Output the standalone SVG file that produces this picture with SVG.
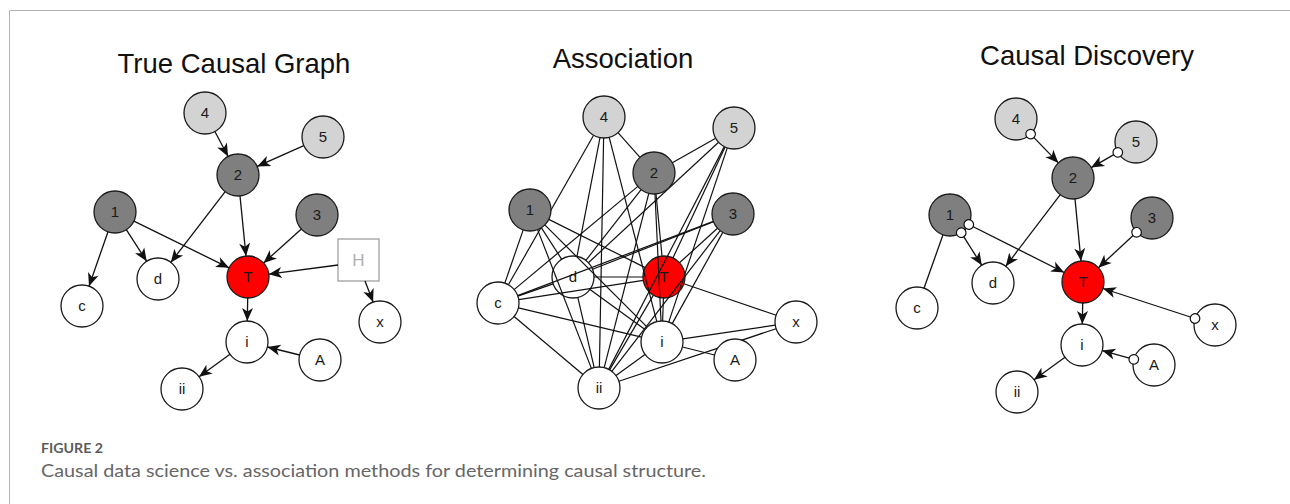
<svg xmlns="http://www.w3.org/2000/svg" width="1290" height="504" viewBox="0 0 1290 504">
<style>
.bg{fill:#fff}
.frame{fill:none;stroke:#b3b3b3;stroke-width:1}
.title{font-family:"Liberation Sans",Arial,sans-serif;font-size:27.5px;fill:#111;text-anchor:middle}
.node circle{stroke:#1a1a1a;stroke-width:1.3}
.lg{fill:#d3d3d3}
.dg{fill:#7f7f7f}
.rd{fill:#ff0000}
.wh{fill:#fff}
.node text{font-family:"Liberation Sans",Arial,sans-serif;font-size:15px;fill:#1a1a1a;text-anchor:middle}
.hbox{fill:#fff;stroke:#a0a0a0;stroke-width:1.3}
.node text.htext{font-size:17px;fill:#b0b0b0}
.e line{stroke:#111;stroke-width:1.3}
.a line{marker-end:url(#arr)}
.co line{marker-start:url(#circ)}
.ass line{stroke:#111;stroke-width:1.2}
.cap1{font-family:Lato,"Open Sans",sans-serif;font-size:13.5px;font-weight:bold;fill:#5a5a5a}
.cap2{font-family:Lato,"Open Sans",sans-serif;font-size:17px;fill:#666}
</style>
<defs>
<marker id="arr" markerUnits="userSpaceOnUse" markerWidth="15" markerHeight="12" refX="13" refY="5.5" orient="auto" overflow="visible"><path d="M0,0 L13,5.5 L0,11 L3.5,5.5 Z" fill="#111"/></marker>
<marker id="circ" markerUnits="userSpaceOnUse" markerWidth="12" markerHeight="12" refX="0" refY="0" orient="auto" overflow="visible"><circle cx="0" cy="0" r="4.8" fill="#fff" stroke="#111" stroke-width="1.2"/></marker>
</defs>
<rect class="bg" x="0" y="0" width="1290" height="504"/>
<path class="frame" d="M9.5,504 V10.5 H1290"/>

<text class="title" x="234" y="73">True Causal Graph</text>
<text class="title" x="623" y="68">Association</text>
<text class="title" x="1087" y="65">Causal Discovery</text>

<!-- Panel 1 nodes -->
<g id="p1-n4" class="node"><circle class="lg" cx="205" cy="113" r="21"/><text x="205" y="118">4</text></g>
<g id="p1-n5" class="node"><circle class="lg" cx="323" cy="137" r="21"/><text x="323" y="142">5</text></g>
<g id="p1-n2" class="node"><circle class="dg" cx="238" cy="175" r="21"/><text x="238" y="180">2</text></g>
<g id="p1-n1" class="node"><circle class="dg" cx="115" cy="212" r="21"/><text x="115" y="217">1</text></g>
<g id="p1-n3" class="node"><circle class="dg" cx="317" cy="215" r="21"/><text x="317" y="220">3</text></g>
<g id="p1-T" class="node"><circle class="rd" cx="248" cy="277" r="21"/><text x="248" y="282">T</text></g>
<g id="p1-d" class="node"><circle class="wh" cx="158" cy="279" r="21"/><text x="158" y="284">d</text></g>
<g id="p1-c" class="node"><circle class="wh" cx="82" cy="306" r="21"/><text x="82" y="311">c</text></g>
<g id="p1-H" class="node"><rect class="hbox" x="338" y="239" width="41" height="42"/><text class="htext" x="358.5" y="266">H</text></g>
<g id="p1-x" class="node"><circle class="wh" cx="380" cy="322" r="21"/><text x="380" y="327">x</text></g>
<g id="p1-i" class="node"><circle class="wh" cx="247" cy="342" r="21"/><text x="247" y="347">i</text></g>
<g id="p1-A" class="node"><circle class="wh" cx="320" cy="360" r="21"/><text x="320" y="365">A</text></g>
<g id="p1-ii" class="node"><circle class="wh" cx="182" cy="389" r="21"/><text x="182" y="394">ii</text></g>

<!-- Panel 3 nodes -->
<g id="p3-n4" class="node"><circle class="lg" cx="1016" cy="119" r="21"/><text x="1016" y="124">4</text></g>
<g id="p3-n5" class="node"><circle class="lg" cx="1136" cy="142" r="21"/><text x="1136" y="147">5</text></g>
<g id="p3-n2" class="node"><circle class="dg" cx="1073" cy="178" r="21"/><text x="1073" y="183">2</text></g>
<g id="p3-n1" class="node"><circle class="dg" cx="950" cy="215" r="21"/><text x="950" y="220">1</text></g>
<g id="p3-n3" class="node"><circle class="dg" cx="1152" cy="218" r="21"/><text x="1152" y="223">3</text></g>
<g id="p3-T" class="node"><circle class="rd" cx="1083" cy="282" r="21"/><text x="1083" y="287">T</text></g>
<g id="p3-d" class="node"><circle class="wh" cx="993" cy="283" r="21"/><text x="993" y="288">d</text></g>
<g id="p3-c" class="node"><circle class="wh" cx="917" cy="308" r="21"/><text x="917" y="313">c</text></g>
<g id="p3-x" class="node"><circle class="wh" cx="1215" cy="325" r="21"/><text x="1215" y="330">x</text></g>
<g id="p3-i" class="node"><circle class="wh" cx="1082" cy="345" r="21"/><text x="1082" y="350">i</text></g>
<g id="p3-A" class="node"><circle class="wh" cx="1154" cy="365" r="21"/><text x="1154" y="370">A</text></g>
<g id="p3-ii" class="node"><circle class="wh" cx="1017" cy="392" r="21"/><text x="1017" y="397">ii</text></g>

<!-- Panel 2 nodes drawn beneath the connectors -->
<g id="p2-d" class="node"><circle class="wh" cx="573" cy="277" r="21"/><text x="573" y="282">d</text></g>
<g id="p2-T" class="node"><circle class="rd" cx="664" cy="277" r="21"/><text x="664" y="282">T</text></g>

<g id="connectors">
 <g id="p1-edges" class="e a">
  <line x1="214.9" y1="131.5" x2="228.1" y2="156.5"/>
  <line x1="303.8" y1="145.6" x2="257.2" y2="166.4"/>
  <line x1="225.2" y1="191.6" x2="170.8" y2="262.4"/>
  <line x1="240.0" y1="195.9" x2="246.0" y2="256.1"/>
  <line x1="108.0" y1="231.8" x2="89.0" y2="286.2"/>
  <line x1="126.3" y1="229.7" x2="146.7" y2="261.3"/>
  <line x1="133.9" y1="221.2" x2="229.1" y2="267.8"/>
  <line x1="301.4" y1="229.0" x2="263.6" y2="263.0"/>
  <line x1="338" y1="265" x2="268.8" y2="274.2"/>
  <line x1="365" y1="281" x2="373.1" y2="302.1"/>
  <line x1="247.7" y1="298" x2="247.3" y2="321"/>
  <line x1="299.6" y1="355.0" x2="267.4" y2="347.0"/>
  <line x1="230.0" y1="354.3" x2="199.0" y2="376.7"/>
 </g>
 <g id="p2-edges" class="ass">
  <line x1="618.0" y1="132.7" x2="640.0" y2="157.3"/>
  <line x1="593.6" y1="135.2" x2="508.4" y2="284.8"/>
  <line x1="600.0" y1="137.6" x2="577.0" y2="256.4"/>
  <line x1="603.6" y1="138.0" x2="599.4" y2="367.0"/>
  <line x1="609.2" y1="137.3" x2="656.8" y2="321.7"/>
  <line x1="715.7" y1="138.3" x2="672.3" y2="162.7"/>
  <line x1="718.6" y1="142.3" x2="588.4" y2="262.7"/>
  <line x1="725.1" y1="147.0" x2="672.9" y2="258.0"/>
  <line x1="727.3" y1="147.9" x2="668.7" y2="322.1"/>
  <line x1="724.3" y1="146.6" x2="608.7" y2="369.4"/>
  <line x1="637.9" y1="186.4" x2="514.1" y2="289.6"/>
  <line x1="641.1" y1="189.6" x2="585.9" y2="260.4"/>
  <line x1="648.8" y1="193.3" x2="604.2" y2="367.6"/>
  <line x1="655.0" y1="194.0" x2="661.0" y2="321.0"/>
  <line x1="656.0" y1="193.9" x2="662.0" y2="256.1"/>
  <line x1="523.2" y1="229.9" x2="504.8" y2="283.1"/>
  <line x1="541.3" y1="227.7" x2="561.7" y2="259.3"/>
  <line x1="537.6" y1="229.6" x2="591.4" y2="368.4"/>
  <line x1="544.8" y1="224.8" x2="647.2" y2="327.2"/>
  <line x1="548.8" y1="219.4" x2="645.2" y2="267.6"/>
  <line x1="713.4" y1="221.4" x2="517.6" y2="295.6"/>
  <line x1="713.5" y1="221.7" x2="592.5" y2="269.3"/>
  <line x1="717.5" y1="228.2" x2="679.5" y2="262.8"/>
  <line x1="722.8" y1="232.4" x2="672.2" y2="323.6"/>
  <line x1="720.2" y1="230.6" x2="611.8" y2="371.4"/>
  <line x1="517.8" y1="296.1" x2="553.2" y2="283.9"/>
  <line x1="518.7" y1="299.7" x2="643.3" y2="280.3"/>
  <line x1="518.4" y1="307.9" x2="641.6" y2="337.1"/>
  <line x1="514.1" y1="316.5" x2="582.9" y2="374.5"/>
  <line x1="594" y1="277" x2="643" y2="277"/>
  <line x1="590.0" y1="289.4" x2="645.0" y2="329.6"/>
  <line x1="577.8" y1="297.4" x2="594.2" y2="367.6"/>
  <line x1="683.9" y1="283.8" x2="776.1" y2="315.2"/>
  <line x1="663.4" y1="298.0" x2="662.6" y2="321.0"/>
  <line x1="653.4" y1="295.1" x2="609.6" y2="369.9"/>
  <line x1="682.8" y1="338.9" x2="775.2" y2="325.1"/>
  <line x1="682.4" y1="347.0" x2="714.6" y2="355.0"/>
  <line x1="645.0" y1="354.4" x2="616.0" y2="375.6"/>
  <line x1="618.9" y1="381.3" x2="776.1" y2="328.7"/>
 </g>
 <g id="p3-edges" class="e">
  <g class="a co">
   <line x1="1030.6" y1="134.1" x2="1058.4" y2="162.9"/>
   <line x1="1117.8" y1="152.4" x2="1091.2" y2="167.6"/>
   <line x1="961.2" y1="232.7" x2="981.8" y2="265.3"/>
   <line x1="968.8" y1="224.5" x2="1064.2" y2="272.5"/>
   <line x1="1136.6" y1="232.3" x2="1098.4" y2="267.7"/>
   <line x1="1195.0" y1="318.5" x2="1103.0" y2="288.5"/>
   <line x1="1133.8" y1="359.4" x2="1102.2" y2="350.6"/>
  </g>
  <g class="a">
   <line x1="1060.3" y1="194.7" x2="1005.7" y2="266.3"/>
   <line x1="1075.0" y1="198.9" x2="1081.0" y2="261.1"/>
   <line x1="1082.7" y1="303" x2="1082.3" y2="324"/>
   <line x1="1065.0" y1="357.3" x2="1034.0" y2="379.7"/>
  </g>
  <line x1="943.0" y1="234.8" x2="924.0" y2="288.2"/>
 </g>
</g>

<!-- Panel 2 nodes drawn over the connectors -->
<g id="p2-n4" class="node"><circle class="lg" cx="604" cy="117" r="21"/><text x="604" y="122">4</text></g>
<g id="p2-n5" class="node"><circle class="lg" cx="734" cy="128" r="21"/><text x="734" y="133">5</text></g>
<g id="p2-n2" class="node"><circle class="dg" cx="654" cy="173" r="21"/><text x="654" y="178">2</text></g>
<g id="p2-n1" class="node"><circle class="dg" cx="530" cy="210" r="21"/><text x="530" y="215">1</text></g>
<g id="p2-n3" class="node"><circle class="dg" cx="733" cy="214" r="21"/><text x="733" y="219">3</text></g>
<g id="p2-c" class="node"><circle class="wh" cx="498" cy="303" r="21"/><text x="498" y="308">c</text></g>
<g id="p2-x" class="node"><circle class="wh" cx="796" cy="322" r="21"/><text x="796" y="327">x</text></g>
<g id="p2-i" class="node"><circle class="wh" cx="662" cy="342" r="21"/><text x="662" y="347">i</text></g>
<g id="p2-A" class="node"><circle class="wh" cx="735" cy="360" r="21"/><text x="735" y="365">A</text></g>
<g id="p2-ii" class="node"><circle class="wh" cx="599" cy="388" r="21"/><text x="599" y="393">ii</text></g>

<text class="cap1" x="41" y="453" textLength="62" lengthAdjust="spacingAndGlyphs">FIGURE 2</text>
<text class="cap2" x="41" y="477" textLength="665" lengthAdjust="spacingAndGlyphs">Causal data science vs. association methods for determining causal structure.</text>
</svg>
